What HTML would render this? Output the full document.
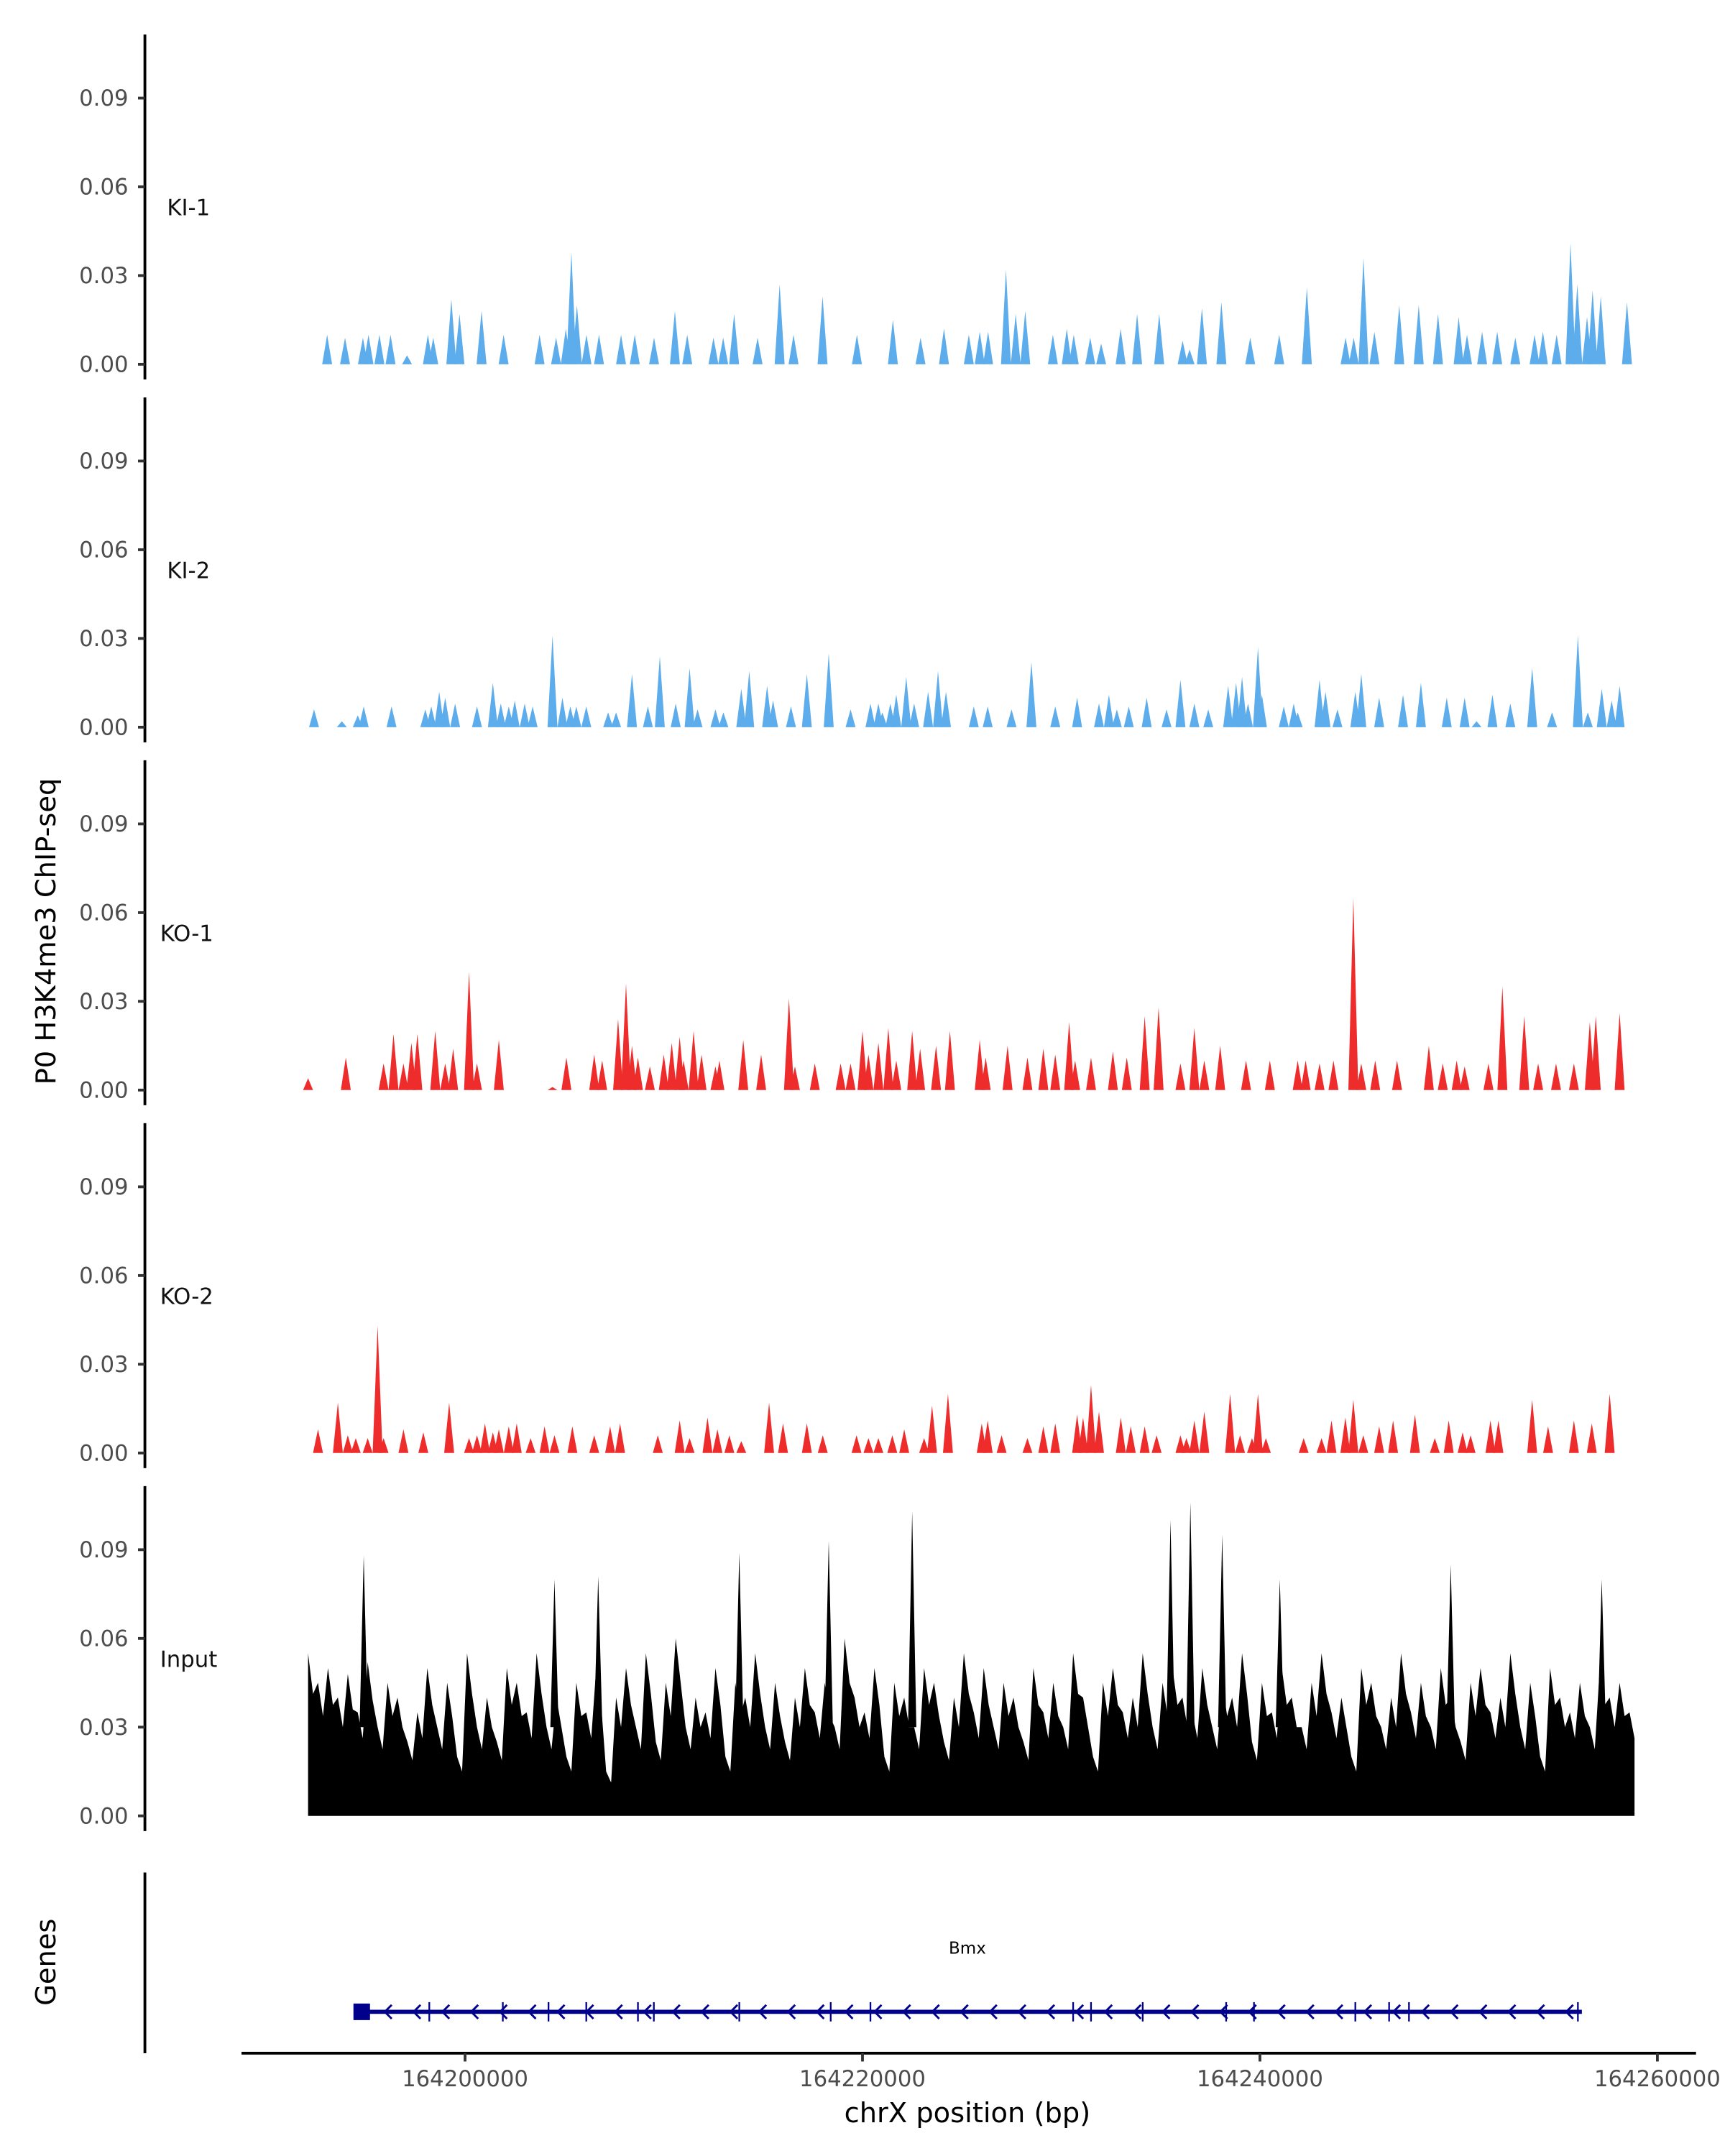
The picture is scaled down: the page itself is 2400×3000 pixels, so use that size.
<!DOCTYPE html>
<html><head><meta charset="utf-8"><style>
html,body{margin:0;padding:0;background:#fff;}
svg{display:block;}
text{font-family:"DejaVu Sans","Liberation Sans",sans-serif;}
</style></head><body>
<svg id="chart" width="2400" height="3000" viewBox="0 0 1250 1562.5" xmlns="http://www.w3.org/2000/svg">
<rect width="1250" height="1562.5" fill="#fff"/>
<text x="0" y="0" transform="translate(40,675) rotate(-90)" text-anchor="middle" font-size="20" fill="#000">P0 H3K4me3 ChIP-seq</text>
<text x="0" y="0" transform="translate(40,1422) rotate(-90)" text-anchor="middle" font-size="20" fill="#000">Genes</text>
<line x1="105" y1="1357" x2="105" y2="1488" stroke="#000" stroke-width="2"/>
<line x1="175" y1="1488" x2="1229" y2="1488" stroke="#000" stroke-width="2"/>
<text x="701" y="1538" text-anchor="middle" font-size="20" fill="#000">chrX position (bp)</text>
<g id="tracks"></g>
</svg>
<script>
// genomic positions in kb relative to chrX:164190000
const trackNames = ["KI-1","KI-2","KO-1","KO-2","Input"];
const trackColors = ["#5DADEC","#5DADEC","#EE2C2C","#EE2C2C","#000000"];
const yTicks = [0, 0.03, 0.06, 0.09];
const yTickLabels = ["0.00","0.03","0.06","0.09"];
const xTicksKb = [10, 30, 50, 70];
const xTickLabels = ["164200000","164220000","164240000","164260000"];

const ki1Pos = [3.06,3.96,4.86,5.14,5.69,6.25,7.08,8.13,8.40,9.31,9.72,10.83,11.94,13.75,14.58,15.07,15.35,15.63,16.11,16.74,17.85,18.54,19.51,20.56,21.18,22.5,22.99,23.54,24.72,25.83,26.53,27.99,29.72,31.53,32.92,34.1,35.35,35.9,36.32,37.22,37.71,38.19,39.58,40.28,40.63,41.46,42.01,42.99,43.82,44.93,46.11,46.46,47.08,48.06,49.51,50.97,52.36,54.31,54.72,55.21,55.76,57.01,57.99,58.96,60.0,60.42,61.18,61.94,62.85,63.82,64.24,64.93,65.63,65.97,66.46,66.74,67.15,68.47];
const ki1Val = [0.01,0.009,0.009,0.01,0.01,0.01,0.003,0.01,0.009,0.022,0.017,0.018,0.01,0.01,0.009,0.012,0.038,0.02,0.01,0.01,0.01,0.01,0.009,0.018,0.01,0.009,0.009,0.017,0.009,0.027,0.01,0.023,0.01,0.015,0.009,0.012,0.01,0.011,0.011,0.032,0.017,0.018,0.01,0.012,0.01,0.009,0.007,0.012,0.017,0.017,0.008,0.005,0.019,0.021,0.009,0.01,0.026,0.009,0.009,0.036,0.011,0.02,0.02,0.017,0.016,0.01,0.011,0.011,0.009,0.01,0.011,0.01,0.041,0.027,0.016,0.025,0.023,0.021];

const ki2Pos = [2.4,3.8,4.6,4.9,6.3,8.0,8.3,8.7,9.0,9.5,10.6,11.4,11.8,12.2,12.5,13.0,13.4,14.4,14.9,15.3,15.6,16.1,17.2,17.6,18.4,19.2,19.8,20.6,21.3,21.7,22.6,23.0,23.9,24.3,25.2,25.5,26.4,27.2,28.3,29.4,30.4,30.8,31.0,31.4,31.7,32.2,32.6,33.3,33.8,34.2,35.6,36.3,37.5,38.5,39.7,40.8,41.9,42.4,42.8,43.4,44.3,45.3,46.0,46.7,47.4,48.4,48.8,49.1,49.4,49.9,50.1,51.2,51.7,51.9,53.0,53.3,53.9,54.8,55.1,56.0,57.2,58.1,59.4,60.3,60.9,61.7,62.6,63.7,64.7,66.0,66.5,67.2,67.7,68.1];
const ki2Val = [0.006,0.002,0.004,0.007,0.007,0.006,0.007,0.012,0.01,0.008,0.007,0.015,0.008,0.007,0.009,0.008,0.007,0.031,0.01,0.007,0.007,0.007,0.005,0.005,0.018,0.007,0.024,0.008,0.02,0.006,0.006,0.005,0.013,0.019,0.014,0.009,0.007,0.018,0.025,0.006,0.008,0.008,0.005,0.008,0.011,0.017,0.008,0.012,0.019,0.012,0.007,0.007,0.006,0.022,0.007,0.01,0.008,0.011,0.006,0.007,0.01,0.006,0.016,0.008,0.006,0.014,0.015,0.017,0.008,0.027,0.011,0.007,0.008,0.005,0.016,0.012,0.006,0.012,0.018,0.01,0.011,0.015,0.01,0.01,0.002,0.011,0.008,0.02,0.005,0.031,0.005,0.013,0.009,0.014];

const ko1Pos = [2.1,4.0,5.9,6.4,6.9,7.3,7.6,8.5,9.0,9.4,10.2,10.6,11.7,14.4,15.1,16.5,16.9,17.7,18.1,18.4,18.7,19.3,20.0,20.4,20.8,21.0,21.5,21.9,22.6,22.8,24.0,24.9,26.3,26.6,27.6,28.9,29.4,30.0,30.3,30.8,31.3,31.7,32.5,32.9,33.7,34.4,35.9,36.2,37.3,38.3,39.1,39.7,40.4,40.7,41.5,42.6,43.3,44.2,44.9,46.0,46.7,47.2,48.0,49.3,50.5,51.9,52.3,53.0,53.7,54.7,55.1,55.8,56.9,58.5,59.2,59.9,60.3,61.5,62.2,63.3,64.0,64.9,65.8,66.6,66.9,68.1];
const ko1Val = [0.004,0.011,0.009,0.019,0.009,0.016,0.019,0.02,0.009,0.014,0.04,0.009,0.017,0.001,0.011,0.012,0.01,0.024,0.036,0.015,0.011,0.008,0.012,0.016,0.018,0.01,0.02,0.012,0.008,0.01,0.017,0.012,0.031,0.008,0.009,0.009,0.009,0.02,0.012,0.016,0.021,0.01,0.02,0.014,0.015,0.02,0.017,0.011,0.015,0.011,0.014,0.012,0.023,0.01,0.011,0.013,0.011,0.025,0.028,0.009,0.021,0.01,0.015,0.01,0.01,0.01,0.01,0.009,0.01,0.065,0.009,0.01,0.01,0.015,0.009,0.01,0.008,0.009,0.035,0.025,0.009,0.009,0.009,0.023,0.025,0.026];

const ko2Pos = [2.6,3.6,4.1,4.5,5.1,5.6,5.9,6.9,7.9,9.2,10.2,10.6,11.0,11.4,11.7,12.2,12.6,13.3,14.0,14.5,15.4,16.5,17.3,17.8,19.7,20.8,21.3,22.2,22.7,23.3,23.9,25.3,26.0,27.2,28.0,29.7,30.3,30.8,31.5,32.1,33.1,33.5,34.3,36.0,36.3,37.0,38.3,39.1,39.7,40.8,41.1,41.5,41.9,43.0,43.5,44.2,44.8,46.0,46.3,46.7,47.2,48.5,49.0,49.6,49.9,50.3,52.2,53.1,53.6,54.3,54.7,55.2,56.0,56.7,57.8,58.8,59.5,60.2,60.6,61.6,62.0,63.7,64.5,65.8,66.7,67.6];
const ko2Val = [0.008,0.017,0.006,0.005,0.005,0.043,0.005,0.008,0.007,0.017,0.005,0.006,0.01,0.007,0.008,0.009,0.01,0.005,0.009,0.006,0.009,0.006,0.009,0.01,0.006,0.011,0.005,0.012,0.008,0.006,0.004,0.017,0.01,0.01,0.006,0.006,0.005,0.005,0.006,0.008,0.005,0.016,0.02,0.01,0.011,0.006,0.005,0.009,0.01,0.013,0.012,0.023,0.014,0.012,0.009,0.009,0.006,0.006,0.005,0.011,0.014,0.02,0.006,0.005,0.02,0.005,0.005,0.005,0.011,0.012,0.018,0.006,0.009,0.011,0.013,0.005,0.011,0.007,0.006,0.011,0.011,0.018,0.009,0.011,0.01,0.02];

const inputStartKb = 2.1;
const inputStepKb = 0.5;
const inputVal = [0.055,0.045,0.05,0.04,0.048,0.035,0.052,0.03,0.045,0.04,
0.025,0.035,0.05,0.03,0.045,0.02,0.055,0.03,0.04,0.025,
0.05,0.045,0.035,0.055,0.03,0.04,0.02,0.045,0.035,0.05,
0.015,0.04,0.05,0.03,0.055,0.025,0.045,0.06,0.03,0.04,
0.035,0.05,0.02,0.045,0.04,0.055,0.03,0.045,0.025,0.04,
0.05,0.035,0.045,0.03,0.06,0.04,0.035,0.05,0.02,0.045,
0.04,0.03,0.05,0.045,0.025,0.04,0.055,0.035,0.05,0.03,
0.045,0.04,0.025,0.05,0.035,0.045,0.03,0.055,0.04,0.02,
0.045,0.05,0.035,0.04,0.055,0.03,0.045,0.05,0.04,0.035,
0.05,0.03,0.045,0.04,0.055,0.025,0.045,0.035,0.05,0.04,
0.03,0.045,0.055,0.035,0.04,0.02,0.05,0.045,0.03,0.04,
0.055,0.035,0.045,0.03,0.05,0.04,0.025,0.045,0.05,0.035,
0.04,0.055,0.03,0.045,0.02,0.05,0.04,0.035,0.045,0.03,
0.05,0.04,0.045,0.035];
const inputSpikePos = [4.9,14.5,16.7,23.8,28.3,32.5,45.5,46.5,48.1,51.0,59.6,67.2];
const inputSpikeVal = [0.088,0.08,0.081,0.089,0.093,0.103,0.1,0.106,0.095,0.08,0.085,0.08];

const geneStartKb = 4.8;
const geneEndKb = 66.2;
const exonKb = [8.2,11.9,14.2,16.1,18.7,19.5,23.8,28.4,30.4,40.6,41.5,44.1,48.3,49.7,54.8,56.5,57.5,66.0];

const NS = "http://www.w3.org/2000/svg";
const g = document.getElementById("tracks");
function X(kb){ return 193 + kb*14.4; }
function panelBase(i){ return 264 + 263*i; }
function Y(i,v){ return panelBase(i) - v/0.03*64.3; }
function mk(tag, attrs){ const e=document.createElementNS(NS,tag); for(const k in attrs) e.setAttribute(k,attrs[k]); return e; }

const peakSets = [[ki1Pos,ki1Val],[ki2Pos,ki2Val],[ko1Pos,ko1Val],[ko2Pos,ko2Val]];
for(let i=0;i<5;i++){
  const axis = mk("line",{x1:105,y1:25+263*i,x2:105,y2:275+263*i,stroke:"#000","stroke-width":2});
  
  
  g.appendChild(axis);
  for(let t=0;t<yTicks.length;t++){
    const y=Y(i,yTicks[t]);
    const tk=mk("line",{x1:100,y1:y,x2:105,y2:y,stroke:"#333","stroke-width":2});
    
    
    g.appendChild(tk);
    const lb=mk("text",{x:93,y:y+5.5,"text-anchor":"end","font-size":"16",fill:"#4d4d4d"});
    lb.textContent=yTickLabels[t];
    
    
    g.appendChild(lb);
  }
  const nm=mk("text",{x:i<2?121:116,y:panelBase(i)-108,"font-size":"16",fill:"#111"});
  nm.textContent=trackNames[i];
  
  
  g.appendChild(nm);
  const b=panelBase(i);
  if(i<4){
    const [ps,vs]=peakSets[i];
    for(let k=0;k<ps.length;k++){
      const x=X(ps[k]);
      const p=mk("polygon",{points:`${x-3.6},${b} ${x},${Y(i,vs[k])} ${x+3.6},${b}`,fill:trackColors[i]});
      
      
      g.appendChild(p);
    }
  } else {
    let pts=`${X(inputStartKb)},${b} `;
    for(let k=0;k<inputVal.length;k++){
      pts+=`${X(inputStartKb+k*inputStepKb)},${Y(i,inputVal[k])} `;
      pts+=`${X(inputStartKb+k*inputStepKb+0.25)},${Y(i,inputVal[k]*0.75)} `;
    }
    pts+=`${X(inputStartKb+(inputVal.length-1)*inputStepKb+0.25)},${b}`;
    const a=mk("polygon",{points:pts,fill:"#000"});
    
    
    g.appendChild(a);
    for(let k=0;k<inputSpikePos.length;k++){
      const x=X(inputSpikePos[k]);
      const p=mk("polygon",{points:`${x-3},${Y(i,0.03)} ${x},${Y(i,inputSpikeVal[k])} ${x+3},${Y(i,0.03)}`,fill:"#000"});
      
      
      g.appendChild(p);
    }
  }
}
for(let t=0;t<xTicksKb.length;t++){
  const x=X(xTicksKb[t]);
  const tk=mk("line",{x1:x,y1:1488,x2:x,y2:1494,stroke:"#333","stroke-width":2});
  
  
  g.appendChild(tk);
  const lb=mk("text",{x:x,y:1512,"text-anchor":"middle","font-size":"16",fill:"#4d4d4d"});
  lb.textContent=xTickLabels[t];
  
  
  g.appendChild(lb);
}
const gy=1458;
const gl=mk("line",{x1:X(geneStartKb),y1:gy,x2:X(geneEndKb),y2:gy,stroke:"#00008B","stroke-width":3});


g.appendChild(gl);
const sb=mk("rect",{x:X(geneStartKb)-6,y:gy-6,width:12,height:12,fill:"#00008B"});


g.appendChild(sb);
for(let k=0;k<exonKb.length;k++){
  const x=X(exonKb[k]);
  const e=mk("line",{x1:x,y1:gy-7,x2:x,y2:gy+7,stroke:"#00008B","stroke-width":1.2});
  
  
  g.appendChild(e);
}
for(let kb=geneStartKb+1.3; kb<geneEndKb; kb+=1.45){
  const x=X(kb);
  const ar=mk("polyline",{points:`${x+3},${gy-5} ${x-2},${gy} ${x+3},${gy+5}`,fill:"none",stroke:"#00008B","stroke-width":1.5});
  
  
  g.appendChild(ar);
}
const gn=mk("text",{x:701,y:1416,"text-anchor":"middle","font-size":"12",fill:"#000"});
gn.textContent="Bmx";


g.appendChild(gn);
</script>
</body></html>
